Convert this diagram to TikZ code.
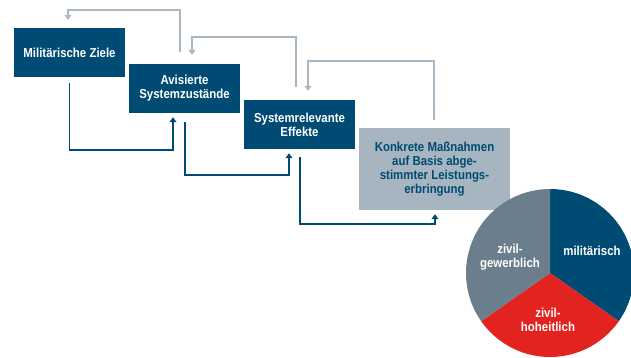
\documentclass[tikz,border=0pt]{standalone}
\usepackage{fontspec}
\setmainfont{Liberation Sans}[FakeStretch=0.88]
\usetikzlibrary{arrows.meta}

\definecolor{navy}{HTML}{004B73}
\definecolor{paleblue}{HTML}{A7B5C0}
\definecolor{slate}{HTML}{6A7E8B}
\definecolor{signal}{HTML}{E2231F}
\definecolor{backline}{HTML}{A9B7C3}

\begin{document}
\begin{tikzpicture}[x=1pt, y=-1pt,
    every node/.style={font=\fontsize{13}{14}\selectfont\bfseries, align=center, inner sep=0pt},
    stage/.style={fill=navy, text=white, minimum width=111pt, minimum height=49pt},
    fwd/.style={draw=navy, line width=1.6pt, -{Triangle[width=7pt,length=5pt]}},
    back/.style={draw=backline, line width=1.6pt, -{Triangle[width=7pt,length=5pt]}}]

  \clip (0,0) rectangle (631,357);

  %%%%%%%%%%%%%%%%%%%%%%%%%%%%%%
  % The four stages            %
  %%%%%%%%%%%%%%%%%%%%%%%%%%%%%%
  \node[stage] (ziele) at (69.5,52.5) {Militärische Ziele};
  \node[stage] (avis) at (184.5,88.5) {Avisierte\\Systemzustände};
  \node[stage] (effekte) at (299.5,124.5) {Systemrelevante\\Effekte};
  \node[fill=paleblue, text=navy, minimum width=151pt, minimum height=82pt] (massn) at (434.5,169)
        {Konkrete Maßnahmen\\auf Basis abge-\\stimmter Leistungs-\\erbringung};

  %%%%%%%%%%%%%%%%%%%%%%%%%%%%%%
  % Forward steps              %
  %%%%%%%%%%%%%%%%%%%%%%%%%%%%%%
  \draw[fwd] ([yshift=-6pt]ziele.south) -- ++(0,67) -| ([xshift=-11.5pt,yshift=-4pt]avis.south);
  \draw[fwd] ([xshift=0.5pt,yshift=-9pt]avis.south) -- ++(0,53) -| ([xshift=-10.5pt,yshift=-4pt]effekte.south);
  \draw[fwd] ([xshift=0.5pt,yshift=-8pt]effekte.south) -- ++(0,67) -| ([xshift=0.5pt,yshift=-4pt]massn.south);

  %%%%%%%%%%%%%%%%%%%%%%%%%%%%%%
  % Feedback loops             %
  %%%%%%%%%%%%%%%%%%%%%%%%%%%%%%
  \draw[back] ([xshift=-4.5pt,yshift=12pt]avis.north) -- ++(0,-42) -| ([xshift=-1.5pt,yshift=8pt]ziele.north);
  \draw[back] ([xshift=-3.5pt,yshift=13pt]effekte.north) -- ++(0,-50) -| ([xshift=7.5pt,yshift=9pt]avis.north);
  \draw[back] ([xshift=-0.5pt,yshift=8pt]massn.north) -- ++(0,-59) -| ([xshift=8.5pt,yshift=9pt]effekte.north);

  %%%%%%%%%%%%%%%%%%%%%%%%%%%%%%
  % Share of the contributors  %
  %%%%%%%%%%%%%%%%%%%%%%%%%%%%%%
  \begin{scope}[shift={(550,273)}, y=1pt]
    \fill[navy] (0,0) -- (90:84pt) arc[start angle=90, end angle=-35, radius=84pt] -- cycle;
    \fill[signal] (0,0) -- (-35:84pt) arc[start angle=-35, end angle=-145, radius=84pt] -- cycle;
    \fill[slate] (0,0) -- (-145:84pt) arc[start angle=-145, end angle=-270, radius=84pt] -- cycle;
  \end{scope}
  \node[text=white] (mil) at (592,251) {militärisch};
  \node[text=white] (gew) at (510,257.5) {zivil-\\gewerblich};
  \node[text=white] (hoh) at (548,320) {zivil-\\hoheitlich};

\end{tikzpicture}
\end{document}
